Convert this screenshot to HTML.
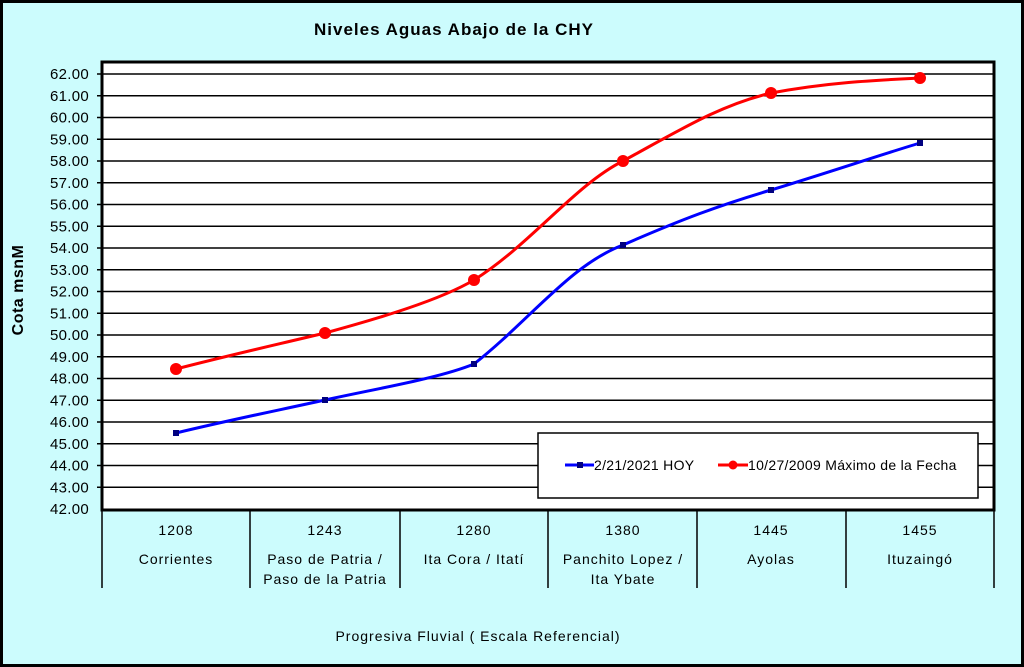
<!DOCTYPE html>
<html><head><meta charset="utf-8"><style>
html,body{margin:0;padding:0;background:#fff}
svg{display:block}
text{font-family:"Liberation Sans",sans-serif;fill:#000}
</style></head><body>
<svg width="1024" height="667" viewBox="0 0 1024 667">
<rect x="1.5" y="1.5" width="1021" height="664" fill="#ccfcfd" stroke="#000" stroke-width="3"/>
<text x="454" y="35" font-size="17" font-weight="bold" text-anchor="middle" letter-spacing="1">Niveles Aguas Abajo de la CHY</text>
<rect x="102" y="62" width="892" height="448" fill="#fff"/>
<g stroke="#000" stroke-width="1.5">
<line x1="97" y1="74" x2="994" y2="74"/><line x1="97" y1="95.75" x2="994" y2="95.75"/><line x1="97" y1="117.5" x2="994" y2="117.5"/><line x1="97" y1="139.25" x2="994" y2="139.25"/><line x1="97" y1="161" x2="994" y2="161"/><line x1="97" y1="182.75" x2="994" y2="182.75"/><line x1="97" y1="204.5" x2="994" y2="204.5"/><line x1="97" y1="226.25" x2="994" y2="226.25"/><line x1="97" y1="248" x2="994" y2="248"/><line x1="97" y1="269.75" x2="994" y2="269.75"/><line x1="97" y1="291.5" x2="994" y2="291.5"/><line x1="97" y1="313.25" x2="994" y2="313.25"/><line x1="97" y1="335" x2="994" y2="335"/><line x1="97" y1="356.75" x2="994" y2="356.75"/><line x1="97" y1="378.5" x2="994" y2="378.5"/><line x1="97" y1="400.25" x2="994" y2="400.25"/><line x1="97" y1="422" x2="994" y2="422"/><line x1="97" y1="443.75" x2="994" y2="443.75"/><line x1="97" y1="465.5" x2="994" y2="465.5"/><line x1="97" y1="487.25" x2="994" y2="487.25"/>
<line x1="250" y1="510" x2="250" y2="588"/><line x1="400" y1="510" x2="400" y2="588"/><line x1="548" y1="510" x2="548" y2="588"/><line x1="697" y1="510" x2="697" y2="588"/><line x1="846" y1="510" x2="846" y2="588"/><line x1="102" y1="510" x2="102" y2="588"/><line x1="994" y1="510" x2="994" y2="588"/>
</g>
<rect x="102" y="62" width="892" height="448" fill="none" stroke="#000" stroke-width="3"/>
<g font-size="15" text-anchor="end" letter-spacing="0.3">
<text x="89" y="79">62.00</text><text x="89" y="100.75">61.00</text><text x="89" y="122.5">60.00</text><text x="89" y="144.25">59.00</text><text x="89" y="166">58.00</text><text x="89" y="187.75">57.00</text><text x="89" y="209.5">56.00</text><text x="89" y="231.25">55.00</text><text x="89" y="253">54.00</text><text x="89" y="274.75">53.00</text><text x="89" y="296.5">52.00</text><text x="89" y="318.25">51.00</text><text x="89" y="340">50.00</text><text x="89" y="361.75">49.00</text><text x="89" y="383.5">48.00</text><text x="89" y="405.25">47.00</text><text x="89" y="427">46.00</text><text x="89" y="448.75">45.00</text><text x="89" y="470.5">44.00</text><text x="89" y="492.25">43.00</text><text x="89" y="514">42.00</text>
</g>
<text transform="translate(23,290) rotate(-90)" font-size="16" font-weight="bold" text-anchor="middle" letter-spacing="0.5">Cota msnM</text>
<g font-size="14" text-anchor="middle" letter-spacing="1">
<text x="176" y="535">1208</text><text x="176" y="564">Corrientes</text>
<text x="325" y="535">1243</text><text x="325" y="564">Paso de Patria /</text><text x="325" y="584">Paso de la Patria</text>
<text x="474" y="535">1280</text><text x="474" y="564">Ita Cora / Itatí</text>
<text x="623" y="535">1380</text><text x="623" y="564">Panchito Lopez /</text><text x="623" y="584">Ita Ybate</text>
<text x="771" y="535">1445</text><text x="771" y="564">Ayolas</text>
<text x="920" y="535">1455</text><text x="920" y="564">Ituzaingó</text>
<text x="478" y="641">Progresiva Fluvial ( Escala Referencial)</text>
</g>
<path d="M176,433 C230,420 270,412 325,400 C380,388 440,378 474,364 C530,320 570,265 623,245 C680,220 720,205 771,190 C830,172 880,155 920,143" fill="none" stroke="#0000ff" stroke-width="3"/>
<path d="M176,369 C230,355 275,345 325,333 C380,318 440,300 474,280 C530,245 575,185 623,161 C680,130 720,105 771,93 C830,82 880,80 920,78" fill="none" stroke="#ff0000" stroke-width="3"/>
<g fill="#000080"><rect x="173" y="430" width="6" height="6"/><rect x="322" y="397" width="6" height="6"/><rect x="471" y="361" width="6" height="6"/><rect x="620" y="242" width="6" height="6"/><rect x="768" y="187" width="6" height="6"/><rect x="917" y="140" width="6" height="6"/></g>
<g fill="#ff0000"><circle cx="176" cy="369" r="6"/><circle cx="325" cy="333" r="6"/><circle cx="474" cy="280" r="6"/><circle cx="623" cy="161" r="6"/><circle cx="771" cy="93" r="6"/><circle cx="920" cy="78" r="6"/></g>
<rect x="538" y="433" width="440" height="65" fill="#fff" stroke="#000" stroke-width="1.5"/>
<line x1="565" y1="465" x2="594" y2="465" stroke="#0000ff" stroke-width="3"/><rect x="577" y="462" width="6" height="6" fill="#000080"/>
<text x="594" y="470" font-size="14" letter-spacing="0.3">2/21/2021 HOY</text>
<line x1="718" y1="465" x2="748" y2="465" stroke="#ff0000" stroke-width="3"/><circle cx="733" cy="465" r="4.5" fill="#ff0000"/>
<text x="748" y="470" font-size="14" letter-spacing="0.3">10/27/2009 Máximo de la Fecha</text>
</svg>
</body></html>
